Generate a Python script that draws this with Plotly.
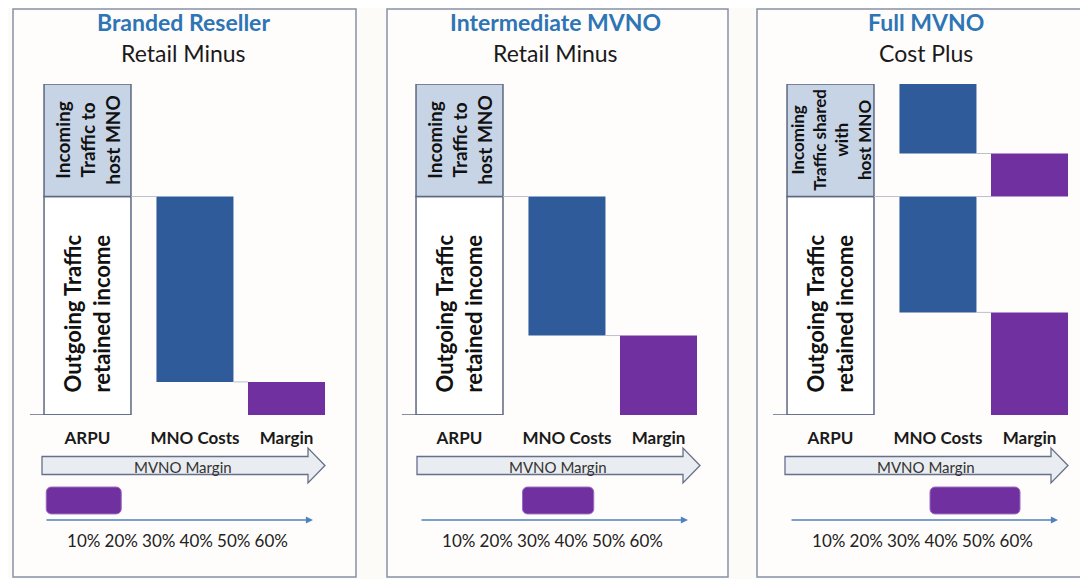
import plotly.graph_objects as go

# ---------------- data ----------------
models = ["Branded Reseller", "Intermediate MVNO", "Full MVNO"]
pricing = ["Retail Minus", "Retail Minus", "Cost Plus"]
categories = ["ARPU", "MNO Costs", "Margin"]
incoming_labels = [
    "Incoming<br>Traffic to<br>host MNO",
    "Incoming<br>Traffic to<br>host MNO",
    "Incoming<br>Traffic shared<br>with<br>host MNO",
]
outgoing_label = "Outgoing Traffic<br>retained income"
incoming_share = [34, 34, 34]
outgoing_share = [66, 66, 66]
mno_cost_outgoing = [56, 42, 35]
margin_outgoing = [10, 24, 31]
mno_cost_incoming = [0, 0, 21]
margin_incoming = [0, 0, 13]
margin_range_low = [0, 27, 37]
margin_range_high = [20, 46, 61]
pct_ticks = [10, 20, 30, 40, 50, 60]
pct_labels = ["10%", "20%", "30%", "40%", "50%", "60%"]
arrow_label = "MVNO Margin"

# ---------------- layout constants ----------------
# the page body adds an 8px margin, so the figure is drawn 8px in from the corner
OX, OY = 8, 8
FW, FH = 1080, 571
FONT = "Lato, 'Open Sans', sans-serif"
BLUE = "#2f5b9a"
PURPLE = "#7030a0"
EDGE = "#5d6780"
CONN = "#b9c1cd"


def px(x):
    return (x - OX) / FW


def py(y):
    return 1 - (y - OY) / FH


CAT_X = [0, 1.08, 2.0]
BAR_W = [0.874, 0.774, 0.774]
UNIT = 99.5
X0 = 87.5
main_off = [0, 372, 743]
pct_off = [0, 375, 745]
deco_off = [0, 375, 743]
panel_box = [(13, 356), (387, 728), (757, 1100)]

fig = go.Figure()
layout = dict(
    width=FW, height=FH, margin=dict(l=0, r=0, t=0, b=0),
    paper_bgcolor="#fdfbf8", plot_bgcolor="rgba(0,0,0,0)",
    showlegend=False, barmode="overlay",
    font=dict(family=FONT, color="#1a1a1a"),
)
shapes, annotations = [], []

for i in range(3):
    m, p = 2 * i + 1, 2 * i + 2
    xa, ya = f"x{m}", f"y{m}"
    xp, yp = f"x{p}", f"y{p}"
    mo, po, do = main_off[i], pct_off[i], deco_off[i]
    sfx_m = "" if m == 1 else str(m)
    sfx_p = str(p)

    out, inc = outgoing_share[i], incoming_share[i]
    mno_o, mar_o = mno_cost_outgoing[i], margin_outgoing[i]
    mno_i, mar_i = mno_cost_incoming[i], margin_incoming[i]

    # ARPU stacked box
    fig.add_trace(go.Bar(
        x=[CAT_X[0], CAT_X[0]], y=[out, inc], base=[0, out],
        width=[BAR_W[0]] * 2, xaxis=xa, yaxis=ya,
        marker=dict(color=["#ffffff", "#c7d4e6"], line=dict(color=EDGE, width=1.5)),
        hoverinfo="skip",
    ))
    # MNO costs
    mx, my, mb = [], [], []
    for val, base in [(mno_o, out - mno_o), (mno_i, out + inc - mno_i)]:
        if val > 0:
            mx.append(CAT_X[1]); my.append(val); mb.append(base)
    fig.add_trace(go.Bar(
        x=mx, y=my, base=mb, width=[BAR_W[1]] * len(mx), xaxis=xa, yaxis=ya,
        marker=dict(color=BLUE, line=dict(width=0)), hoverinfo="skip",
    ))
    # Margin
    gx, gy, gb = [], [], []
    for val, base in [(mar_o, out - mno_o - mar_o), (mar_i, out + inc - mno_i - mar_i)]:
        if val > 0:
            gx.append(CAT_X[2]); gy.append(val); gb.append(base)
    fig.add_trace(go.Bar(
        x=gx, y=gy, base=gb, width=[BAR_W[2]] * len(gx), xaxis=xa, yaxis=ya,
        marker=dict(color=PURPLE, line=dict(width=0)), hoverinfo="skip",
    ))

    # connectors
    a_r = CAT_X[0] + BAR_W[0] / 2
    m_l, m_r = CAT_X[1] - BAR_W[1] / 2, CAT_X[1] + BAR_W[1] / 2
    g_l = CAT_X[2] - BAR_W[2] / 2
    conns = [(a_r, m_l, out), (m_r, g_l, out - mno_o)]
    if mno_i > 0:
        conns += [(m_r, g_l, out + inc - mno_i), (m_r, g_l, out)]
    for x0, x1, yv in conns:
        shapes.append(dict(type="line", xref=xa, yref=ya, x0=x0, x1=x1, y0=yv, y1=yv,
                           line=dict(color=CONN, width=1)))
    # baseline
    shapes.append(dict(type="line", xref=xa, yref=ya, x0=-0.58, x1=a_r, y0=0, y1=0,
                       line=dict(color=EDGE, width=1.5)))

    # rotated labels in ARPU box
    annotations.append(dict(xref=xa, yref=ya, x=CAT_X[0], y=out / 2 - 2.5, text=outgoing_label,
                            textangle=-90, showarrow=False, xanchor="center", yanchor="middle",
                            font=dict(size=22, weight="bold", color="#111")))
    annotations.append(dict(xref=xa, yref=ya, x=CAT_X[0], y=out + inc / 2, text=incoming_labels[i],
                            textangle=-90, showarrow=False, xanchor="center", yanchor="middle",
                            font=dict(size=19 if i < 2 else 17, weight="bold", color="#111")))

    # titles
    annotations.append(dict(xref=xa, yref="paper", x=0.96, y=py(22), text=models[i],
                            showarrow=False, xanchor="center", yanchor="middle",
                            font=dict(size=23, weight="bold", color="#2e75b6")))
    annotations.append(dict(xref=xa, yref="paper", x=0.96, y=py(53), text=pricing[i],
                            showarrow=False, xanchor="center", yanchor="middle",
                            font=dict(size=23, color="#1a1a1a")))

    # main axes
    layout["xaxis" + sfx_m] = dict(
        domain=[px(X0 + mo - 0.58 * UNIT), px(X0 + mo + 2.5 * UNIT)],
        range=[-0.58, 2.5], anchor=ya, tickvals=CAT_X, ticktext=categories,
        tickfont=dict(size=17, weight="bold", color="#1a1a1a"), ticklabelstandoff=11,
        showgrid=False, zeroline=False, showline=False, ticks="", fixedrange=True,
    )
    layout["yaxis" + sfx_m] = dict(
        domain=[py(415), py(84)], range=[0, 100], anchor=xa,
        visible=False, fixedrange=True,
    )

    # margin range on percent scale
    fig.add_trace(go.Bar(
        x=[margin_range_high[i] - margin_range_low[i]], base=[margin_range_low[i]],
        y=[0.5], width=[0.69], orientation="h", xaxis=xp, yaxis=yp,
        marker=dict(color=PURPLE, cornerradius=5, line=dict(color="#9a6bbf", width=1)),
        hoverinfo="skip",
    ))
    layout["xaxis" + sfx_p] = dict(
        domain=[px(45 + po), px(313 + po)], range=[-0.33, 71.13], anchor=yp,
        tickvals=pct_ticks, ticktext=pct_labels, tickfont=dict(size=17, color="#222"),
        ticklabelstandoff=9, showgrid=False, zeroline=False, showline=False,
        ticks="", fixedrange=True,
    )
    layout["yaxis" + sfx_p] = dict(
        domain=[py(520), py(481)], range=[0, 1], anchor=xp, visible=False, fixedrange=True,
    )
    annotations.append(dict(xref=xp, yref=yp, axref=xp, ayref=yp, x=71.13, y=0, ax=-0.33, ay=0,
                            text="", showarrow=True, arrowhead=2, arrowsize=1.1,
                            arrowwidth=1.3, arrowcolor="#4f81bd"))

    # big "MVNO Margin" block arrow
    pts = [(42, 456.5), (308, 456.5), (308, 448), (325, 465.5), (308, 483), (308, 474.5), (42, 474.5)]
    path = "M " + " L ".join(f"{px(x + do):.5f},{py(y):.5f}" for x, y in pts) + " Z"
    shapes.append(dict(type="path", xref="paper", yref="paper", path=path,
                       fillcolor="#e9ecf0", line=dict(color="#66708a", width=1.3), layer="below"))
    annotations.append(dict(xref="paper", yref="paper", x=px(183 + do), y=py(467), text=arrow_label,
                            showarrow=False, xanchor="center", yanchor="middle",
                            font=dict(size=15, color="#333")))

    # panel border
    bx0, bx1 = panel_box[i]
    shapes.append(dict(type="rect", xref="paper", yref="paper", x0=px(bx0), x1=px(bx1),
                       y0=py(577), y1=py(9), line=dict(color="#8791a6", width=1.5),
                       fillcolor="#fffdfb", layer="below"))

# draw borders first so they sit under the arrows
shapes = [s for s in shapes if s["type"] == "rect"] + [s for s in shapes if s["type"] != "rect"]
layout["shapes"] = shapes
layout["annotations"] = annotations
fig.update_layout(**layout)
fig.write_html("out.html")
